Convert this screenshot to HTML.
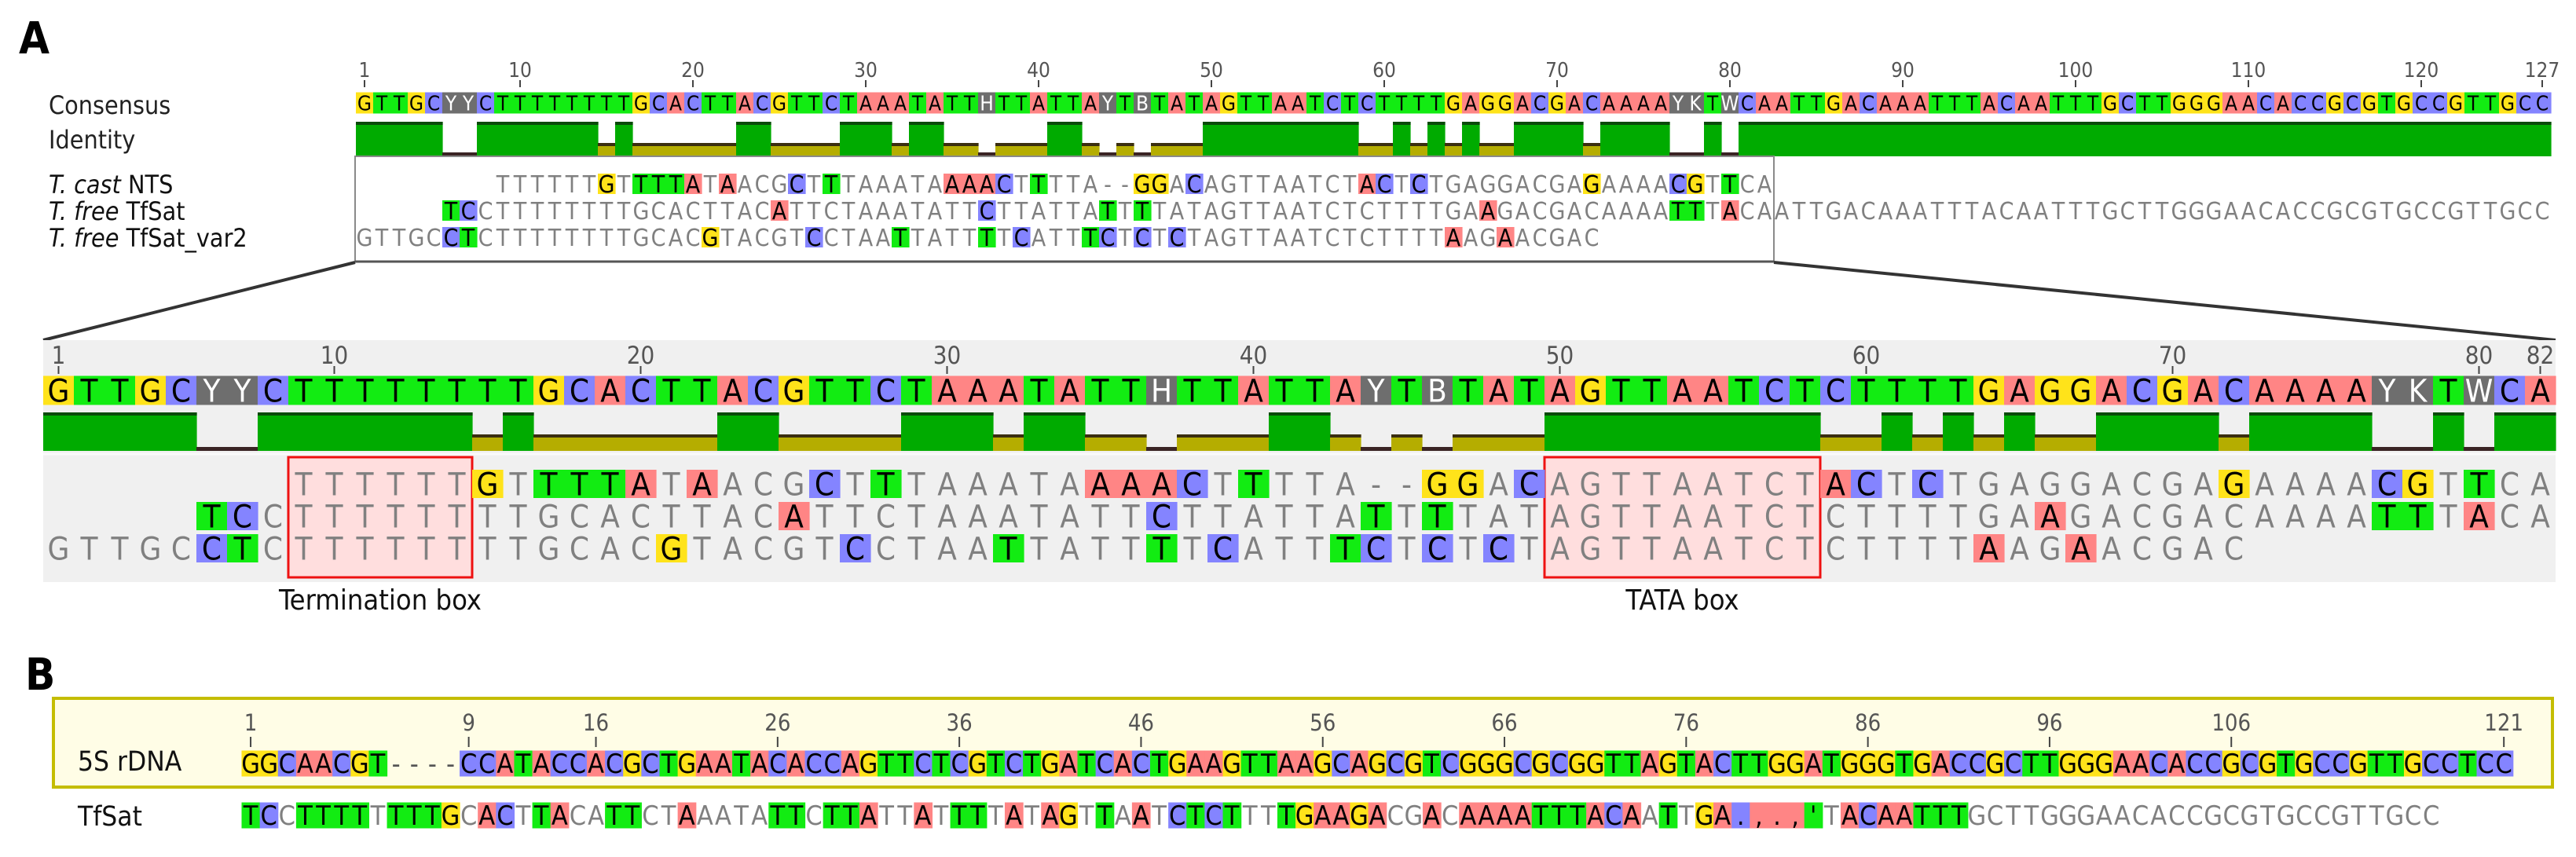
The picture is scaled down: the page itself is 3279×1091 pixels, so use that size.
<!DOCTYPE html>
<html><head><meta charset="utf-8"><title>Alignment figure</title>
<style>
html,body{margin:0;padding:0;background:#fff;}
svg{display:block;}
text{font-family:"DejaVu Sans Condensed","DejaVu Sans","Liberation Sans",sans-serif;}
</style></head>
<body>
<svg id="fig" xmlns="http://www.w3.org/2000/svg" width="3279" height="1091" viewBox="0 0 3279 1091">
<rect x="0" y="0" width="3279" height="1091" fill="#ffffff"/>
</svg>
<script>
// ---------- data ----------
const consensusSeq = "GTTGCYYCTTTTTTTTGCACTTACGTTCTAAATATTHTTATTAYTBTATAGTTAATCTCTTTTGAGGACGACAAAAYKTWCAATTGACAAATTTACAATTTGCTTGGGAACACCGCGTGCCGTTGCC";
const ntsRow = "        " + "TTTTTTGTTTTATAACGCTTTAAATAAAACTTTTA--GGAC" + "AGTTAATCTACTCTGAGGACGAGAAAACGTTCA";
const tfsatRow = "     " + "TCCTTTTTTTTGCACTTACATTCTAAATATTCTTATTATTTTATAGTTAATCTCTTTTGAAGACGACAAAATTTACA" + "ATTGACAAATTTACAATTTGCTTGGGAACACCGCGTGCCGTTGCC";
const var2Row = "GTTGCCTCTTTTTTTTGCACGTACGTCCTAATTATTTTCATTTCTCTCTAGTTAATCTCTTTTAAGAACGAC";
const rowNames = ["t-cast-nts","t-free-tfsat","t-free-tfsat-var2"];
const topTicks = [1,10,20,30,40,50,60,70,80,90,100,110,120,127];
const zoomTicks = [1,10,20,30,40,50,60,70,80,82];
const zoomCols = 82;
const terminationBox = [9,14];
const tataBox = [50,58];
const rdnaSeq = "GGCAACGT" + "CCATACCACGCTGAATACACCAGTTCTCGTCTGATCACTGAAGTTAAGCAGCGTCGGGCGCGGTTAGTACTTGGATGGGTGACCGCTTGGGAACACCGCGTGCCGTTGCCTCC";
const rdnaGapAfter = 8, rdnaGapLen = 4;
const bTfsat = "TCCTTTTTTTTGCACTTACATTCTAAATATTCTTATTATTTTATAGTTAATCTCTTTTGAAGACGACAAAATTTACAATTGA" + ".,.,'" + "TACAATTTGCTTGGGAACACCGCGTGCCGTTGCC";
const bOddColors = ["C","A","A","A","T"];
const bTicks = [1,9,16,26,36,46,56,66,76,86,96,106,121];

// ---------- helpers ----------
const NS="http://www.w3.org/2000/svg";
const svg=document.getElementById('fig');
const COL={A:"#ff8585",C:"#8484ff",G:"#ffe31a",T:"#12ec12"};
function add(parent, tag, name, attrs, txt){
  const el=document.createElementNS(NS,tag);
  
  
  for(const k in attrs) el.setAttribute(k, attrs[k]);
  if(txt!==undefined) el.textContent=txt;
  parent.appendChild(el);
  return el;
}
function cell(g,name,x,yc,w,h,ch,bg,fc,fs){
  if(bg) add(g,'rect',name+'-bg',{x:x,y:yc-h/2,width:w+0.6,height:h,fill:bg});
  if(ch!==' ') add(g,'text',name,{x:x+w/2,y:yc+fs*0.36,'text-anchor':'middle','font-size':fs,fill:fc},ch);
}
function consRow(g,seq,n,x0,w,yc,h,fs){
  for(let i=0;i<n;i++){
    const c=seq[i]; const amb=!COL[c];
    cell(g,'consensus-base',x0+i*w,yc,w,h,c,amb?"#6e6e6e":COL[c],amb?"#ffffff":"#000000",fs);
  }
}
function alnRow(g,name,row,ref,n,x0,w,yc,h,fs){
  for(let i=0;i<n;i++){
    const c=row[i]||' ';
    if(c===' ') continue;
    const diff = c!==ref[i] && c!=='-';
    cell(g,name+'-base',x0+i*w,yc,w,h,c,diff?COL[c]:null,diff?"#000":"#808080",fs);
  }
}
function identity(i){
  const rs=[ntsRow,tfsatRow,var2Row].map(r=>r[i]||' ').filter(c=>c!==' ');
  const cnt={}; rs.forEach(c=>cnt[c]=(cnt[c]||0)+1);
  const mx=Math.max(...Object.values(cnt));
  if(mx===rs.length) return 2;
  if(mx>=2 && mx>rs.length/2) return 1;
  return 0;
}
function idBar(g,n,x0,w,top,bot,mid){
  for(let i=0;i<n;i++){
    const lv=identity(i), x=x0+i*w;
    if(lv===2){ add(g,'rect','identity-full',{x:x,y:top,width:w+0.6,height:bot-top,fill:"#00ab00"});
      add(g,'rect','identity-full-cap',{x:x,y:top,width:w+0.6,height:4,fill:"#0a4a0a"});}
    else if(lv===1){ add(g,'rect','identity-mid',{x:x,y:mid,width:w+0.6,height:bot-mid,fill:"#b5ad00"});
      add(g,'rect','identity-mid-cap',{x:x,y:mid,width:w+0.6,height:4,fill:"#3a2e10"});}
    else add(g,'rect','identity-low',{x:x,y:bot-5,width:w+0.6,height:5,fill:"#3a2424"});
  }
}
function ticks(g,list,colOf,x0,w,ly,t1,t2,fs){
  list.forEach(p=>{
    const cx=x0+(colOf(p)-0.5)*w;
    add(g,'text','position-label',{x:cx,y:ly,'text-anchor':'middle','font-size':fs,fill:"#555"},String(p));
    add(g,'line','position-tick',{x1:cx,x2:cx,y1:t1,y2:t2,stroke:"#444",'stroke-width':2});
  });
}

// ---------- Panel A top ----------
const gA=add(svg,'g','panel-a',{});
add(gA,'text','panel-a-label',{x:24,y:68,'font-size':56,'font-weight':'bold','font-family':'Liberation Sans, sans-serif',fill:'#000'},'A');
const tx0=453, tw=22.0;
ticks(gA,topTicks,p=>p,tx0,tw,98,102,111,26);
consRow(gA,consensusSeq,127,tx0,tw,131,27,26);
idBar(gA,127,tx0,tw,155,199,182);
add(gA,'line','identity-baseline',{x1:tx0,x2:2258,y1:199,y2:199,stroke:'#999','stroke-width':2});
const labs=[["Consensus",133],["Identity",177]];
labs.forEach(l=>add(gA,'text','row-label',{x:62,y:l[1]+12,'font-size':32,fill:'#222'},l[0]));
const spec=[["T. cast"," NTS",234],["T. free"," TfSat",268],["T. free"," TfSat_var2",302]];
spec.forEach((s,k)=>{
  const t=add(gA,'text','sequence-label',{x:62,y:s[2]+12,'font-size':32,fill:'#111'});
  add(t,'tspan','species-name',{'font-style':'italic'},s[0]);
  add(t,'tspan','sequence-id',{},s[1]);
});
add(gA,'rect','zoom-source-box',{x:452,y:199,width:1806,height:134,fill:'none',stroke:'#8a8a8a','stroke-width':2});
add(gA,'line','zoom-source-box-bottom',{x1:452,x2:2258,y1:333,y2:333,stroke:'#555','stroke-width':3});
[ntsRow,tfsatRow,var2Row].forEach((r,k)=>alnRow(gA,rowNames[k],r,consensusSeq,127,tx0,tw,[234,268,302][k],26,30));
add(gA,'line','zoom-connector-left',{x1:452,y1:334,x2:55,y2:433,stroke:'#333','stroke-width':4});
add(gA,'line','zoom-connector-right',{x1:2258,y1:334,x2:3253,y2:433,stroke:'#333','stroke-width':4});

// ---------- Panel A zoom ----------
const gZ=add(svg,'g','panel-a-zoom',{});
const zx0=55, zw=39.0;
add(gZ,'rect','zoom-background',{x:zx0,y:433,width:zoomCols*zw,height:308,fill:'#f0f0f0'});
ticks(gZ,zoomTicks,p=>p,zx0,zw,463,466,476,31);
consRow(gZ,consensusSeq,zoomCols,zx0,zw,497,37,40);
idBar(gZ,zoomCols,zx0,zw,525,574,553);
add(gZ,'line','zoom-divider',{x1:zx0,x2:zx0+zoomCols*zw,y1:578,y2:578,stroke:'#fafafa','stroke-width':3});
function motif(name,rng,label){
  const x=zx0+(rng[0]-1)*zw, w=(rng[1]-rng[0]+1)*zw;
  add(gZ,'rect',name,{x:x,y:582,width:w,height:153,fill:'#ffdede',stroke:'#ee1111','stroke-width':3});
  add(gZ,'text',name+'-label',{x:x+w/2,y:776,'text-anchor':'middle','font-size':36,fill:'#111'},label);
}
motif('termination-box',terminationBox,'Termination box');
motif('tata-box',tataBox,'TATA box');
const zr=[ntsRow.slice(0,zoomCols),tfsatRow.slice(0,zoomCols),var2Row.slice(0,zoomCols)];
zr.forEach((r,k)=>alnRow(gZ,rowNames[k]+'-zoom',r,consensusSeq,zoomCols,zx0,zw,[616,657,698][k],36,40));

// ---------- Panel B ----------
const gB=add(svg,'g','panel-b',{});
add(gB,'text','panel-b-label',{x:32,y:878,'font-size':56,'font-weight':'bold','font-family':'Liberation Sans, sans-serif',fill:'#000'},'B');
add(gB,'rect','rdna-box',{x:68,y:889,width:3181,height:113,fill:'#fffde6',stroke:'#c4bd00','stroke-width':4});
const bx0=307.5, bw=23.13;
const rdnaAln = rdnaSeq.slice(0,rdnaGapAfter)+"-".repeat(rdnaGapLen)+rdnaSeq.slice(rdnaGapAfter);
ticks(gB,bTicks,p=>p<=rdnaGapAfter?p:p+rdnaGapLen,bx0,bw,930,938,951,29);
add(gB,'text','rdna-label',{x:99,y:981,'font-size':35,fill:'#111'},'5S rDNA');
add(gB,'text','tfsat-label',{x:99,y:1051,'font-size':35,fill:'#111'},'TfSat');
for(let i=0;i<rdnaAln.length;i++){
  const c=rdnaAln[i];
  cell(gB,'rdna-base',bx0+i*bw,972,bw,33,c,COL[c]||null,c==='-'?'#555':'#000',34);
}
const oddStart=82;
for(let i=0;i<bTfsat.length;i++){
  const c=bTfsat[i];
  if(i>=oddStart && i<oddStart+bOddColors.length){
    cell(gB,'tfsat-b-base',bx0+i*bw,1038,bw,33,c,COL[bOddColors[i-oddStart]],'#000',34);
    continue;
  }
  const diff=c!==rdnaAln[i] && i<82+5+8;
  cell(gB,'tfsat-b-base',bx0+i*bw,1038,bw,33,c,diff?COL[c]:null,diff?'#000':'#808080',34);
}
</script>
</body></html>
